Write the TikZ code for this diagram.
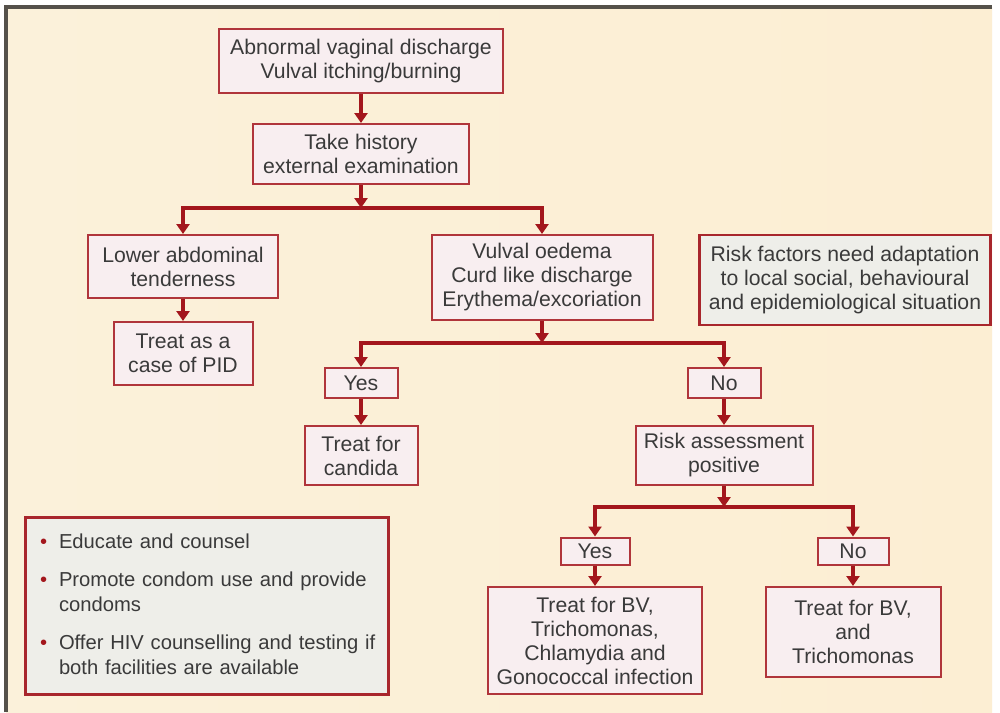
\documentclass[tikz,border=0pt]{standalone}
\usepackage{fontspec}
\setmainfont{Liberation Sans}
\usetikzlibrary{arrows.meta}
\definecolor{flowred}{HTML}{A3161C}
\definecolor{boxred}{HTML}{B0353B}
\definecolor{notered}{HTML}{A8262C}
\definecolor{boxfill}{HTML}{F8EEF0}
\definecolor{notefill}{HTML}{EEEEE9}
\definecolor{txtgray}{HTML}{3A3A3A}
\definecolor{bgleft}{HTML}{FBF1DA}
\definecolor{bgmid}{HTML}{FEF3CF}
\definecolor{bgright}{HTML}{FCEED3}
\definecolor{framegray}{HTML}{55514A}
\begin{document}
\begin{tikzpicture}[x=0.5pt,y=-0.5pt,
  stepbox/.style={draw=boxred, line width=1pt, fill=boxfill, align=center, inner sep=0pt, text=txtgray, font=\fontsize{10.6}{12}\selectfont},
  notebox/.style={stepbox, draw=notered, fill=notefill, line width=1.4pt},
  flow/.style={draw=flowred, line width=2.2pt, -{Triangle[width=6.5pt,length=5pt]}}]
\useasboundingbox (0,0) rectangle (1000,712);
\fill[white] (0,0) rectangle (1000,712);
\shade[left color=bgleft, middle color=bgmid, right color=bgright] (6,7) rectangle (992,712);
\draw[framegray, line width=2pt] (6,712) -- (6,7) -- (992,7);
% main flow
\node[stepbox, minimum width=142pt, minimum height=32pt] (onset) at (361,61) {Abnormal vaginal discharge\\Vulval itching/burning};
\node[stepbox, minimum width=108pt, minimum height=30pt] (history) at (361,154) {Take history\\external examination};
\coordinate (splitA) at (361,208);
\node[stepbox, minimum width=95pt, minimum height=31.5pt] (tender) at (183,266.5) {Lower abdominal\\tenderness};
\node[stepbox, minimum width=69.5pt, minimum height=31.5pt] (pid) at (183,353.5) {Treat as a\\case of PID};
\node[stepbox, minimum width=110.5pt, minimum height=42.5pt] (oedema) at (542,277.5) {Vulval oedema\\Curd like discharge\\Erythema/excoriation};
\coordinate (splitB) at (542,343);
\node[stepbox, minimum width=36.5pt, minimum height=15pt] (yesA) at (361,383) {Yes};
\node[stepbox, minimum width=56.5pt, minimum height=29.5pt] (candida) at (361,455.5) {Treat for\\candida};
\node[stepbox, minimum width=36.5pt, minimum height=15pt] (noA) at (724,383) {No};
\node[stepbox, minimum width=88.5pt, minimum height=29.5pt] (riskpos) at (724,455.5) {Risk assessment\\positive};
\coordinate (splitC) at (724,507);
\node[stepbox, minimum width=34.5pt, minimum height=13.5pt] (yesB) at (595,551) {Yes};
\node[stepbox, minimum width=35.5pt, minimum height=13.5pt] (noB) at (853,551) {No};
\node[stepbox, minimum width=107pt, minimum height=53.5pt] (bvfull) at (595,640.5) {Treat for BV,\\Trichomonas,\\Chlamydia and\\Gonococcal infection};
\node[stepbox, minimum width=87.5pt, minimum height=45pt] (bvtrich) at (853,632) {Treat for BV,\\and\\Trichomonas};
% side notes
\node[notebox, minimum width=145.5pt, minimum height=45pt] (adapt) at (845,280) {Risk factors need adaptation\\to local social, behavioural\\and epidemiological situation};
\node[notebox, line width=1.5pt, minimum width=181.5pt, minimum height=88.5pt, text width=166.5pt, align=left, font=\fontsize{10.1}{12.5}\selectfont] (advice) at (206.5,606) {%
\begin{tabular}{@{}p{9.5pt}@{}l@{}}
\textcolor{flowred}{\textbullet} & Educate and counsel\\[6.5pt]
\textcolor{flowred}{\textbullet} & Promote condom use and provide\\
 & condoms\\[6.5pt]
\textcolor{flowred}{\textbullet} & Offer HIV counselling and testing if\\
 & both facilities are available
\end{tabular}};
% connectors
\draw[flow] (onset) -- (history);
\draw[flow] (history) -- (splitA);
\draw[flow] (splitA) -| (tender);
\draw[flow] (splitA) -| (oedema);
\draw[flow] (tender) -- (pid);
\draw[flow] (oedema) -- (splitB);
\draw[flow] (splitB) -| (yesA);
\draw[flow] (splitB) -| (noA);
\draw[flow] (yesA) -- (candida);
\draw[flow] (noA) -- (riskpos);
\draw[flow] (riskpos) -- (splitC);
\draw[flow] (splitC) -| (yesB);
\draw[flow] (splitC) -| (noB);
\draw[flow] (yesB) -- (bvfull);
\draw[flow] (noB) -- (bvtrich);
\end{tikzpicture}
\end{document}
